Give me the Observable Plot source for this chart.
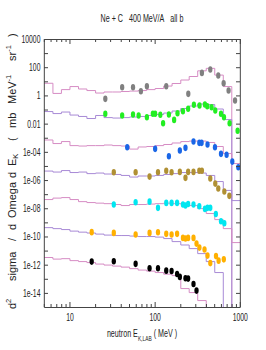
<!DOCTYPE html>
<html><head><meta charset="utf-8">
<script src="https://cdn.jsdelivr.net/npm/d3@7"></script>
<script src="https://cdn.jsdelivr.net/npm/@observablehq/plot@0.6"></script>
<style>
html,body{margin:0;padding:0;background:#fff;overflow:hidden}
#chart{width:266px;height:350px;overflow:hidden}
.chart line, .chart path, .chart rect { vector-effect: non-scaling-stroke; }
</style></head><body><div id="chart"></div>
<script>
// ---------- data ----------
const titleText = "Ne + C\u00a0\u00a0\u00a0400 MeV/A\u00a0\u00a0\u00a0all b";
const xLabelParts = ["neutron E", "K,LAB", "\u00a0( MeV )"];
const yLabelParts = ["d", "2", "sigma", "/", "d", "Omega", "d", "E", "K", "(", "mb", "MeV", "-1", "sr", "-1", ")"];

const xLabelTicks = [10, 100, 1000];
const xMinorTicks = [5, 6, 7, 8, 9, 20, 30, 40, 50, 60, 70, 80, 90, 200, 300, 400, 500, 600, 700, 800, 900];
const yLabelTicks = [1e4, 1e2, 1, 1e-2, 1e-4, 1e-6, 1e-8, 1e-10, 1e-12, 1e-14];
const yTickLabels = ["10000", "100", "1", "0.01", "1e-04", "1e-06", "1e-08", "1e-10", "1e-12", "1e-14"];
const yDecadeTicks = [1e3, 1e2, 1e1, 1, 1e-1, 1e-2, 1e-3, 1e-4, 1e-5, 1e-6, 1e-7, 1e-8, 1e-9, 1e-10, 1e-11, 1e-12, 1e-13, 1e-14];

// model histogram bin edges (MeV)
const binEdges = [5.01, 6.31, 7.94, 10, 12.6, 15.8, 20, 25.1, 31.6, 39.8, 50.1, 63.1, 79.4, 100, 126, 158, 200, 251, 316, 398, 501, 631, 794, 1000];

const grayModel   = [7.9, 1.5, 2.8, 4.6, 3.1, 2.4, 1.6, 1.9, 1.9, 2.05, 2.2, 2.4, 2.8, 3.35, 5.0, 7.6, 13.4, 23.8, 60, 90, 30, 4.6, 1e-16];
const greenModel  = [0.078, 0.056, 0.072, 0.044, 0.035, 0.025, 0.041, 0.029, 0.027, 0.029, 0.032, 0.035, 0.041, 0.048, 0.061, 0.085, 0.128, 0.192, 0.267, 0.245, 0.118, 0.021, 1e-16];
const blueModel   = [7.5e-4, 4.2e-4, 5.8e-4, 3.0e-4, 2.8e-4, 3.0e-4, 3.0e-4, 3.3e-4, 3.0e-4, 2.8e-4, 1.7e-4, 2.4e-4, 2.6e-4, 3.0e-4, 3.6e-4, 4.6e-4, 5.8e-4, 6.3e-4, 6.3e-4, 5.0e-4, 2.6e-4, 8.2e-5, 1.6e-5];
const oliveModel  = [4.7e-6, 4.0e-6, 5.1e-6, 3.7e-6, 4.0e-6, 3.1e-6, 3.4e-6, 2.9e-6, 2.7e-6, 2.3e-6, 1.77e-6, 2.1e-6, 2.1e-6, 2.3e-6, 2.7e-6, 3.1e-6, 3.7e-6, 3.7e-6, 3.4e-6, 2.3e-6, 8.5e-7, 2.0e-7, 3.8e-8];
const cyanModel   = [4.5e-8, 5.7e-8, 6.2e-8, 4.5e-8, 3.2e-8, 2.75e-8, 2.5e-8, 2.3e-8, 2.0e-8, 1.69e-8, 2.0e-8, 2.0e-8, 2.15e-8, 2.3e-8, 2.5e-8, 2.3e-8, 2.15e-8, 1.69e-8, 1.03e-8, 4.6e-9, 1.7e-9, 3.9e-10, 4.0e-11];
const orangeModel = [4.6e-10, 3.9e-10, 3.35e-10, 2.6e-10, 2.2e-10, 1.9e-10, 1.6e-10, 1.36e-10, 1.26e-10, 1.26e-10, 1.16e-10, 1.07e-10, 1.07e-10, 9.8e-11, 7.7e-11, 4.7e-11, 2.7e-11, 1.5e-11, 6.6e-12, 1.8e-12, 3.0e-13, 1e-16, 1e-16];
const blackModel  = [3.5e-12, 2.7e-12, 2.9e-12, 2.1e-12, 1.8e-12, 1.53e-12, 1.2e-12, 1.02e-12, 8.6e-13, 7.3e-13, 5.7e-13, 4.5e-13, 3.8e-13, 3.0e-13, 2.3e-13, 1.83e-13, 2.2e-14, 1.14e-14, 3.1e-15, 1e-16, 1e-16, 1e-16, 1e-16];

// measured points: energy (MeV) and cross section
const grayE   = [26, 41, 55, 68, 80, 135, 245, 354, 444, 551, 637, 728, 867];
const grayV   = [0.62, 4.1, 4.1, 2.15, 4.9, 4.9, 1.4, 43, 75, 28, 8.0, 2.4, 0.47];
const greenE  = [26, 41, 55, 64, 80, 94, 100, 115, 124, 145, 167, 183, 212, 244, 285, 332, 384, 409, 460, 508, 593, 643, 748, 929];
const greenV  = [0.054, 0.041, 0.048, 0.041, 0.031, 0.054, 0.054, 0.046, 0.0116, 0.048, 0.020, 0.059, 0.082, 0.122, 0.234, 0.209, 0.245, 0.186, 0.158, 0.092, 0.054, 0.031, 0.0116, 0.0034];
const blueE   = [47, 100, 145, 195, 227, 282, 330, 351, 412, 504, 593, 690, 805, 947];
const blueV   = [2.3e-4, 1.77e-4, 5.3e-5, 1.34e-4, 2.08e-4, 5.8e-4, 4.7e-4, 4.7e-4, 3.6e-4, 2.3e-4, 7.8e-5, 6.7e-5, 2.2e-5, 8.8e-6];
const oliveE  = [32.7, 59, 86, 108, 135, 156, 195, 227, 244, 282, 330, 354, 444, 508, 551, 649, 743];
const oliveV  = [3.9e-6, 3.9e-6, 1.9e-6, 3.9e-6, 4.9e-6, 3.9e-6, 4.1e-6, 1.55e-6, 4.1e-6, 4.1e-6, 4.9e-6, 4.9e-6, 1.39e-6, 6.1e-7, 2.7e-7, 1.66e-7, 8.2e-8];
const cyanE   = [32.7, 59, 86, 108, 135, 156, 181, 212, 227, 244, 282, 330, 384, 412, 444, 516, 593, 649];
const cyanV   = [2.0e-8, 2.9e-8, 3.2e-8, 1.16e-8, 2.6e-8, 2.6e-8, 2.6e-8, 2.0e-8, 1.69e-8, 2.2e-8, 2.0e-8, 1.5e-8, 9.8e-9, 1.16e-8, 1.16e-8, 4.3e-9, 1.3e-9, 9.4e-10];
const orangeE = [18, 32.7, 59, 86, 108, 135, 156, 181, 212, 227, 244, 282, 306, 331, 380, 412, 444, 518, 556, 640];
const orangeV = [2.2e-10, 1.95e-10, 1.48e-10, 1.95e-10, 2.15e-10, 1.66e-10, 1.48e-10, 1.66e-10, 8.6e-11, 7.7e-11, 8.6e-11, 8.6e-11, 3.4e-11, 1.77e-11, 1.28e-11, 4.8e-12, 1.41e-12, 4.4e-12, 2.1e-12, 2.6e-12];
const blackE  = [18, 32.7, 59, 86, 108, 135, 156, 181, 195, 227, 244, 282, 306];
const blackV  = [1.8e-12, 1.9e-12, 1.24e-12, 6.0e-13, 6.0e-13, 4.1e-13, 3.9e-13, 2.4e-13, 1.48e-13, 1.18e-13, 1.12e-13, 4.6e-14, 1.58e-14];

// ---------- styling ----------
const PINK = "#d68cc4", PURPLE = "#a88ad6";
const models = [
  [grayModel, PINK], [greenModel, PURPLE], [blueModel, PINK], [oliveModel, PURPLE],
  [cyanModel, PINK], [orangeModel, PURPLE], [blackModel, PINK]
];
const points = [
  [grayE, grayV, "#808080"], [greenE, greenV, "#22ee22"], [blueE, blueV, "#1a66e6"],
  [oliveE, oliveV, "#b09034"], [cyanE, cyanV, "#00e6f0"], [orangeE, orangeV, "#ffb000"],
  [blackE, blackV, "#000000"]
];

const W = 266, H = 350, SQ = 0.65;
const PW = W / SQ;
const mL = 44 / SQ, mR = 26 / SQ, mT = 39, mB = 43;
const frameW = PW - mL - mR, frameH = H - mT - mB;
const AX = "#444";

const marks = [];
for (const [vals, color] of models) {
  const rows = binEdges.map((e, i) => ({e, v: vals[Math.min(i, vals.length - 1)]}));
  marks.push(Plot.line(rows, {x: "e", y: "v", curve: "step-after", stroke: color, strokeWidth: 1, clip: true}));
}
for (const [E, V, color] of points) {
  const rows = E.map((e, i) => ({e, v: V[i]}));
  marks.push(Plot.dot(rows, {x: "e", y: "v", r: 3.3, fill: color, clip: true}));
}
// ticks (inward, on all four sides)
marks.push(Plot.tickX(xLabelTicks, {x: d => d, insetTop: frameH - 5, stroke: AX}));
marks.push(Plot.tickX(xLabelTicks, {x: d => d, insetBottom: frameH - 5, stroke: AX}));
marks.push(Plot.tickX(xMinorTicks, {x: d => d, insetTop: frameH - 3, stroke: AX}));
marks.push(Plot.tickX(xMinorTicks, {x: d => d, insetBottom: frameH - 3, stroke: AX}));
marks.push(Plot.tickY(yDecadeTicks, {y: d => d, insetRight: frameW - 4 / SQ, stroke: AX}));
marks.push(Plot.tickY(yDecadeTicks, {y: d => d, insetLeft: frameW - 4 / SQ, stroke: AX}));
marks.push(Plot.frame({stroke: AX}));
marks.push(Plot.axisX({ticks: xLabelTicks, tickSize: 0, tickPadding: 6, tickFormat: d => String(d), fontSize: 10.5, label: null, fill: "#222"}));
marks.push(Plot.axisY({ticks: yLabelTicks, tickSize: 0, tickPadding: 6, tickFormat: d => yTickLabels[yLabelTicks.indexOf(d)], fontSize: 10.5, label: null, fill: "#222"}));

const svg = Plot.plot({
  className: "chart",
  width: PW, height: H,
  marginLeft: mL, marginRight: mR, marginTop: mT, marginBottom: mB,
  style: {fontFamily: "'Liberation Sans', Arial, sans-serif", fontSize: "10.5px", background: "#fff", color: "#222"},
  x: {type: "log", domain: [5, 1000]},
  y: {type: "log", domain: [1e-15, 1e4]},
  marks
});

// condense horizontally (the reference figure is squeezed sideways)
const ns = "http://www.w3.org/2000/svg";
const g = document.createElementNS(ns, "g");
g.setAttribute("transform", `scale(${SQ},1)`);
while (svg.firstChild) g.appendChild(svg.firstChild);
svg.appendChild(g);
svg.setAttribute("width", W);
svg.setAttribute("height", H);
svg.setAttribute("viewBox", `0 0 ${W} ${H}`);

const gs = d3.select(g);
gs.append("text").attr("x", 142 / SQ).attr("y", 22.5).attr("text-anchor", "middle")
  .attr("font-size", 11).attr("fill", "#222").text(titleText);
const xl = gs.append("text").attr("x", 142 / SQ).attr("y", 337.5).attr("text-anchor", "middle")
  .attr("font-size", 11).attr("fill", "#222");
xl.append("tspan").text(xLabelParts[0]);
xl.append("tspan").attr("font-size", 7.5).attr("dy", 3.5).text(xLabelParts[1]);
xl.append("tspan").attr("dy", -3.5).text(xLabelParts[2]);

// rotated y-axis title, each part placed along the axis
const yl = d3.select(svg).append("text")
  .attr("transform", "translate(15.5,309) rotate(-90)")
  .attr("text-anchor", "start")
  .attr("font-size", 11).attr("fill", "#222");
// [x offset along axis (null = follow previous), baseline shift, size]
const yLayout = [[0, 0, 11], [null, -4.5, 7.5], [28, 0, 11], [68, 0, 11], [79, 0, 11], [91, 0, 11],
  [131, 0, 11], [143, 0, 11], [null, 2.5, 7.5], [168, 0, 11], [181, 0, 11], [205, 0, 11],
  [null, -4.5, 7.5], [248, 0, 11], [null, -4.5, 7.5], [272, 0, 11]];
yLabelParts.forEach((t, i) => {
  const [x, y, s] = yLayout[i];
  const sp = yl.append("tspan").attr("y", y).attr("font-size", s).text(t);
  if (x !== null) sp.attr("x", x);
});

document.getElementById("chart").appendChild(svg);
</script></body></html>
